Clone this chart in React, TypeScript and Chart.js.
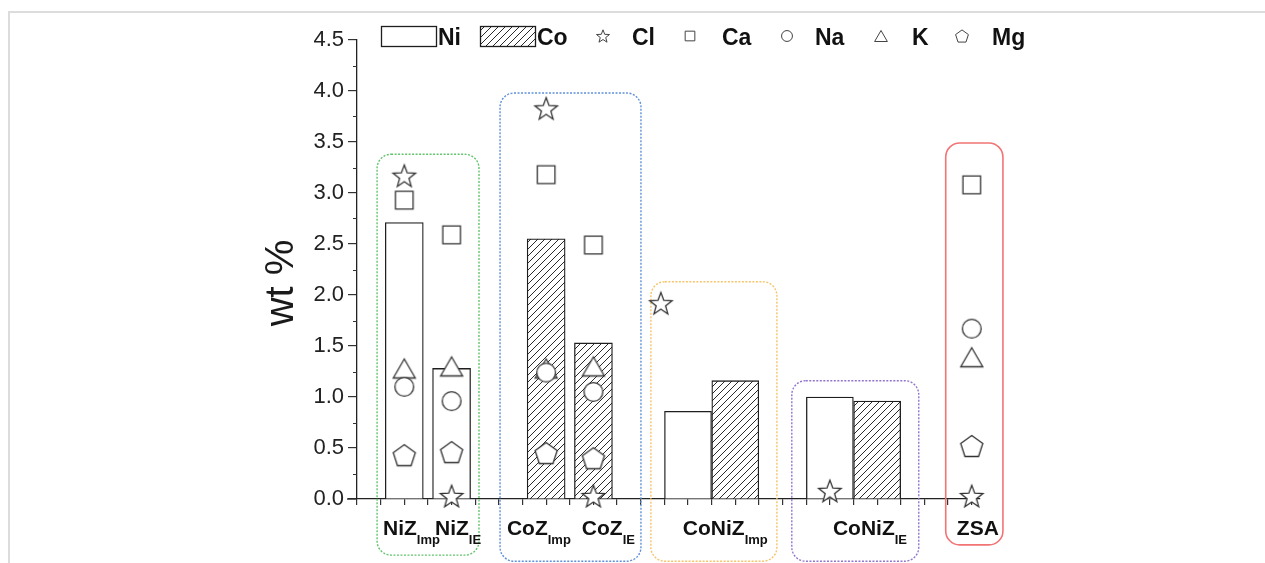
import React, { useEffect, useRef } from 'react';
import { Chart, registerables } from 'chart.js';

Chart.register(...registerables);

const FONT = "'Liberation Sans', Arial, Helvetica, sans-serif";

// ---- categories (samples) ----
const sampleMain = ['NiZ', 'NiZ', 'CoZ', 'CoZ', 'CoNiZ', 'CoNiZ', 'ZSA'];
const sampleSub = ['Imp', 'IE', 'Imp', 'IE', 'Imp', 'IE', ''];
// slot on the numeric x axis where each sample's label starts
const labelSlot = [1.1, 3.3, 6.34, 9.51, 13.78, 20.13, 25.37];

// ---- bar series (wt % of metal) ----
const niMonoSlot = [2, 4];
const niMonoValues = [2.71, 1.28];
const coMonoSlot = [8, 10];
const coMonoValues = [2.55, 1.53];
const niBiSlot = [14, 20];
const niBiValues = [0.86, 1.0];
const coBiSlot = [16, 22];
const coBiValues = [1.16, 0.96];

// ---- marker series (wt % of impurities), one value per sample ----
const markerSlot = [2, 4, 8, 10, 12.85, 20, 26];
const clValues = [3.17, 0.03, 3.83, 0.03, 1.92, 0.08, 0.03];
const caValues = [2.93, 2.59, 3.18, 2.49, null, null, 3.08];
const naValues = [1.1, 0.96, 1.24, 1.05, null, null, 1.67];
const kValues = [1.28, 1.3, 1.28, 1.3, null, null, 1.39];
const mgValues = [0.43, 0.46, 0.45, 0.4, null, null, 0.52];

// ---- y axis ----
const yMin = 0;
const yMax = 4.5;
const yStep = 0.5;

// ---- group frames (in axis units) ----
const groupX0 = [0.85, 6.05, 12.43, 18.39, 24.9];
const groupX1 = [5.16, 12.01, 17.76, 23.76, 27.32];
const groupTop = [3.38, 3.98, 2.13, 1.16, 3.49];
const groupBottom = [-0.55, -0.61, -0.61, -0.61, -0.45];
const groupColor = ['#62c46c', '#5f90d8', '#f6c46a', '#9275cc', '#f27474'];
const groupDotted = [true, true, true, true, false];

type Shape = 'star' | 'square' | 'circle' | 'triangle' | 'pentagon';

function shapePath(ctx: CanvasRenderingContext2D, shape: Shape, cx: number, cy: number, k: number) {
  ctx.beginPath();
  if (shape === 'star') {
    const R = 11.8 * k;
    const r = R * 0.42;
    const dy = (R - R * 0.809) / 2;
    for (let i = 0; i < 10; i++) {
      const a = -Math.PI / 2 + (i * Math.PI) / 5;
      const rad = i % 2 === 0 ? R : r;
      const x = cx + rad * Math.cos(a);
      const y = cy + dy + rad * Math.sin(a);
      if (i === 0) ctx.moveTo(x, y);
      else ctx.lineTo(x, y);
    }
    ctx.closePath();
  } else if (shape === 'square') {
    const h = 8.8 * k;
    ctx.rect(cx - h, cy - h, 2 * h, 2 * h);
  } else if (shape === 'circle') {
    ctx.arc(cx, cy, 9.4 * k, 0, Math.PI * 2);
  } else if (shape === 'triangle') {
    const w = 22 * k;
    const h = 19 * k;
    ctx.moveTo(cx, cy - h / 2);
    ctx.lineTo(cx + w / 2, cy + h / 2);
    ctx.lineTo(cx - w / 2, cy + h / 2);
    ctx.closePath();
  } else {
    const R = 11.6 * k;
    const dy = (R - R * 0.809) / 2;
    for (let i = 0; i < 5; i++) {
      const a = -Math.PI / 2 + (i * 2 * Math.PI) / 5;
      const x = cx + R * Math.cos(a);
      const y = cy + dy + R * Math.sin(a);
      if (i === 0) ctx.moveTo(x, y);
      else ctx.lineTo(x, y);
    }
    ctx.closePath();
  }
}

function drawShape(ctx: CanvasRenderingContext2D, shape: Shape, cx: number, cy: number, k: number, color: string, lw: number) {
  shapePath(ctx, shape, cx, cy, k);
  ctx.fillStyle = '#ffffff';
  ctx.fill();
  ctx.strokeStyle = color;
  ctx.lineWidth = lw;
  ctx.lineJoin = 'miter';
  ctx.stroke();
}

function markerImage(shape: Shape): HTMLCanvasElement {
  const c = document.createElement('canvas');
  c.width = 30;
  c.height = 30;
  const g = c.getContext('2d')!;
  drawShape(g, shape, 15, 15, 1, '#333333', 1.3);
  return c;
}

function hatchPattern(ctx: CanvasRenderingContext2D): CanvasPattern | string {
  const c = document.createElement('canvas');
  const s = 7;
  c.width = s;
  c.height = s;
  const g = c.getContext('2d')!;
  g.fillStyle = '#ffffff';
  g.fillRect(0, 0, s, s);
  g.strokeStyle = '#2a2a2a';
  g.lineWidth = 1;
  g.beginPath();
  g.moveTo(0, s);
  g.lineTo(s, 0);
  g.moveTo(-1, 1);
  g.lineTo(1, -1);
  g.moveTo(s - 1, s + 1);
  g.lineTo(s + 1, s - 1);
  g.stroke();
  return ctx.createPattern(c, 'repeat') || '#888';
}

export default function App() {
  const ref = useRef<HTMLCanvasElement | null>(null);

  useEffect(() => {
    document.body.style.margin = '0';
    const canvas = ref.current!;
    const ctx = canvas.getContext('2d')!;
    const hatch = hatchPattern(ctx);

    const pts = (vals: (number | null)[]) =>
      markerSlot.map((x, i) => ({ x, y: vals[i] })).filter((p) => p.y !== null) as { x: number; y: number }[];
    const barPts = (slots: number[], vals: number[]) => slots.map((x, i) => ({ x, y: vals[i] }));

    const scatter = (label: string, vals: (number | null)[], shape: Shape) => ({
      type: 'scatter' as const,
      label,
      data: pts(vals),
      pointStyle: markerImage(shape),
      pointRadius: 10,
      clip: false,
      order: 0,
    });

    const bar = (label: string, slots: number[], vals: number[], fill: any, thickness: number) => ({
      type: 'bar' as const,
      label,
      data: barPts(slots, vals),
      backgroundColor: fill,
      borderColor: '#1e1e1e',
      borderWidth: 1.3,
      barThickness: thickness,
      grouped: false,
      order: 1,
    });

    const decor = {
      id: 'decor',
      beforeDraw(chart: any) {
        const c = chart.ctx as CanvasRenderingContext2D;
        c.save();
        c.fillStyle = '#ffffff';
        c.fillRect(0, 0, chart.width, chart.height);
        c.strokeStyle = '#dcdcdc';
        c.lineWidth = 2;
        c.beginPath();
        c.moveTo(9, chart.height);
        c.lineTo(9, 12);
        c.lineTo(chart.width, 12);
        c.stroke();
        c.restore();
      },
      beforeDatasetsDraw(chart: any) {
        const c = chart.ctx as CanvasRenderingContext2D;
        const xs = chart.scales.x;
        const ys = chart.scales.y;
        c.save();
        for (let i = 0; i < groupX0.length; i++) {
          const x0 = xs.getPixelForValue(groupX0[i]);
          const x1 = xs.getPixelForValue(groupX1[i]);
          const y0 = ys.getPixelForValue(groupTop[i]);
          const y1 = ys.getPixelForValue(groupBottom[i]);
          c.strokeStyle = groupColor[i];
          c.lineWidth = groupDotted[i] ? 1.4 : 1.6;
          c.setLineDash(groupDotted[i] ? [2, 1.5] : []);
          c.beginPath();
          (c as any).roundRect(x0, y0, x1 - x0, y1 - y0, 14);
          c.stroke();
        }
        c.restore();
        // small extension of the x axis line to the left of the y axis
        c.save();
        c.strokeStyle = '#222';
        c.lineWidth = 1.3;
        c.beginPath();
        const yb = chart.chartArea.bottom;
        c.moveTo(chart.chartArea.left - 10, yb);
        c.lineTo(chart.chartArea.left, yb);
        c.stroke();
        c.restore();
      },
      afterDraw(chart: any) {
        const c = chart.ctx as CanvasRenderingContext2D;
        const xs = chart.scales.x;
        const ys = chart.scales.y;
        const axisX = chart.chartArea.left;
        c.save();
        // minor y ticks
        c.strokeStyle = '#333';
        c.lineWidth = 1.2;
        c.beginPath();
        for (let v = yMin + yStep / 2; v < yMax; v += yStep) {
          const y = Math.round(ys.getPixelForValue(v)) + 0.5;
          c.moveTo(axisX - 4, y);
          c.lineTo(axisX, y);
        }
        c.stroke();

        // x category labels with subscripts
        c.fillStyle = '#111';
        c.textBaseline = 'alphabetic';
        c.textAlign = 'left';
        for (let i = 0; i < sampleMain.length; i++) {
          const x = xs.getPixelForValue(labelSlot[i]);
          c.font = `bold 21px ${FONT}`;
          c.fillText(sampleMain[i], x, 535);
          const w = c.measureText(sampleMain[i]).width;
          if (sampleSub[i]) {
            c.font = `bold 13px ${FONT}`;
            c.fillText(sampleSub[i], x + w, 544);
          }
        }

        // y title
        c.save();
        c.translate(282, 283);
        c.rotate(-Math.PI / 2);
        c.textAlign = 'center';
        c.textBaseline = 'middle';
        c.font = `40px ${FONT}`;
        c.fillStyle = '#1a1a1a';
        c.fillText('wt %', 0, 0);
        c.restore();

        // legend
        const ly = 36;
        c.lineWidth = 1.3;
        c.strokeStyle = '#1e1e1e';
        c.fillStyle = '#ffffff';
        c.fillRect(381.5, 26.5, 55, 20);
        c.strokeRect(381.5, 26.5, 55, 20);
        c.fillStyle = hatch as any;
        c.fillRect(480.5, 26.5, 55, 20);
        c.strokeRect(480.5, 26.5, 55, 20);
        drawShape(c, 'star', 603, ly, 0.58, '#444', 1);
        drawShape(c, 'square', 690, ly, 0.55, '#444', 1);
        drawShape(c, 'circle', 787, ly, 0.58, '#444', 1);
        drawShape(c, 'triangle', 881, ly, 0.58, '#444', 1);
        drawShape(c, 'pentagon', 962, ly, 0.58, '#444', 1);
        c.fillStyle = '#111';
        c.font = `bold 23px ${FONT}`;
        c.textAlign = 'left';
        c.textBaseline = 'alphabetic';
        const legendText: [string, number][] = [
          ['Ni', 438], ['Co', 537], ['Cl', 632], ['Ca', 722], ['Na', 815], ['K', 912], ['Mg', 992],
        ];
        for (const [t, x] of legendText) c.fillText(t, x, 45);
        c.restore();
      },
    };

    const chart = new Chart(canvas, {
      type: 'bar',
      data: {
        datasets: [
          scatter('Cl', clValues, 'star'),
          scatter('Ca', caValues, 'square'),
          scatter('Na', naValues, 'circle'),
          scatter('K', kValues, 'triangle'),
          scatter('Mg', mgValues, 'pentagon'),
          bar('Ni', niMonoSlot, niMonoValues, '#ffffff', 38),
          bar('Co', coMonoSlot, coMonoValues, hatch, 38),
          bar('Ni ', niBiSlot, niBiValues, '#ffffff', 47),
          bar('Co ', coBiSlot, coBiValues, hatch, 47),
        ] as any,
      },
      options: {
        animation: false,
        responsive: false,
        events: [],
        layout: { padding: { left: 266, right: 285, top: 40, bottom: 0 } },
        plugins: { legend: { display: false }, tooltip: { enabled: false } },
        scales: {
          x: {
            type: 'linear',
            min: 0,
            max: 26.35,
            offset: false,
            grid: { display: true, offset: false, drawOnChartArea: false, drawTicks: true, tickLength: 6, color: '#333', lineWidth: 1.2 },
            border: { display: true, color: '#222', width: 1.3 },
            ticks: { display: false, stepSize: 1, includeBounds: false, autoSkip: false },
            afterFit: (s: any) => {
              s.height = 64;
            },
          },
          y: {
            type: 'linear',
            min: yMin,
            max: yMax,
            grid: { display: true, drawOnChartArea: false, drawTicks: true, tickLength: 9, color: '#333', lineWidth: 1.2 },
            border: { display: true, color: '#222', width: 1.3 },
            ticks: {
              stepSize: yStep,
              padding: 4,
              color: '#222',
              font: { family: FONT, size: 22 },
              callback: (v: any) => Number(v).toFixed(1),
            },
            afterFit: (s: any) => {
              s.width = 91;
            },
          },
        },
      } as any,
      plugins: [decor],
    });

    return () => chart.destroy();
  }, []);

  return <canvas ref={ref} width={1265} height={563} style={{ display: 'block' }} />;
}
